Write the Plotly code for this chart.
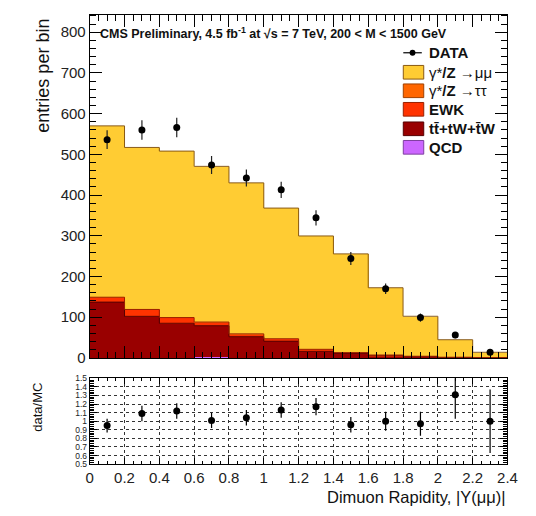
import plotly.graph_objects as go

W, H = 536, 516

# ---------------- data ----------------
bin_edges = [0.0, 0.2, 0.4, 0.6, 0.8, 1.0, 1.2, 1.4, 1.6, 1.8, 2.0, 2.2, 2.4]
bin_centers = [0.1, 0.3, 0.5, 0.7, 0.9, 1.1, 1.3, 1.5, 1.7, 1.9, 2.1, 2.3]

qcd = [0, 0, 0, 3, 0, 0, 0, 0, 0, 0, 0, 0]
ttbar = [137, 102, 85, 76, 52, 41, 16, 11, 5, 3, 1, 0.5]
ewk = [12, 17, 14, 9, 7, 6, 5, 2, 2, 1, 0.5, 0.2]
tautau = [2, 2, 2, 1.5, 1, 1, 0.5, 0.5, 0.3, 0.2, 0.1, 0.05]
mumu = [419, 396, 407, 381, 370, 320, 278, 242, 165, 98, 43, 13]

data_vals = [536, 560, 566, 474, 442, 413, 344, 244, 170, 99, 56, 14]
data_errs = [23, 24, 24, 22, 21, 20, 19, 16, 13, 10, 7.5, 4]

ratio_vals = [0.95, 1.09, 1.12, 1.01, 1.04, 1.13, 1.17, 0.96, 1.00, 0.97, 1.31, 1.00]
ratio_errs = [0.08, 0.09, 0.09, 0.09, 0.09, 0.09, 0.10, 0.09, 0.11, 0.14, 0.28, 0.37]

y_ticks_top = [0, 100, 200, 300, 400, 500, 600, 700, 800]
x_ticks = [0, 0.2, 0.4, 0.6, 0.8, 1.0, 1.2, 1.4, 1.6, 1.8, 2.0, 2.2, 2.4]
x_ticklabels = ["0", "0.2", "0.4", "0.6", "0.8", "1", "1.2", "1.4", "1.6", "1.8", "2", "2.2", "2.4"]
y_ticks_ratio = [0.5, 0.6, 0.7, 0.8, 0.9, 1.0, 1.1, 1.2, 1.3, 1.4, 1.5]
y_ticklabels_ratio = ["0.5", "0.6", "0.7", "0.8", "0.9", "1", "1.1", "1.2", "1.3", "1.4", "1.5"]

legend_labels = ["<b>DATA</b>", "γ*<b>/Z</b> →μμ", "γ*<b>/Z</b> →ττ", "<b>EWK</b>",
                 "<b>tt̄+tW+t̄W</b>", "<b>QCD</b>"]

# ---------------- styles ----------------
C_MUMU, L_MUMU = "#ffcc33", "#8a5a14"
C_TAU, L_TAU = "#ff6600", "#a04000"
C_EWK, L_EWK = "#ff3300", "#9a2000"
C_TT, L_TT = "#990000", "#550000"
C_QCD, L_QCD = "#cc66ff", "#7f3fa0"
FONT = "Liberation Sans, Arial, Helvetica, sans-serif"


def px(x):
    return x / W


def py(y):
    return 1 - y / H


fig = go.Figure()

layers = [("QCD", qcd, C_QCD), ("ttbar", ttbar, C_TT), ("EWK", ewk, C_EWK),
          ("tautau", tautau, C_TAU), ("mumu", mumu, C_MUMU)]
for name, vals, col in layers:
    fig.add_trace(go.Bar(x=bin_centers, y=vals, width=0.2, marker=dict(color=col, line=dict(width=0)),
                         name=name, showlegend=False, xaxis="x", yaxis="y"))

# step outlines on top of each stacked layer
cum = [0.0] * len(bin_centers)
outline_cols = {"QCD": None, "ttbar": L_TT, "EWK": L_EWK, "tautau": None, "mumu": L_MUMU}
for name, vals, col in layers:
    cum = [c + v for c, v in zip(cum, vals)]
    lc = outline_cols[name]
    if lc:
        fig.add_trace(go.Scatter(x=bin_edges, y=cum + [cum[-1]], mode="lines", line=dict(color=lc, width=1, shape="hv"),
                                 showlegend=False, hoverinfo="skip", xaxis="x", yaxis="y"))

fig.add_trace(go.Scatter(x=bin_centers, y=data_vals, mode="markers",
                         marker=dict(color="black", size=7),
                         error_y=dict(type="data", array=data_errs, color="#222", thickness=1.2, width=0),
                         showlegend=False, xaxis="x", yaxis="y"))

fig.add_trace(go.Scatter(x=bin_centers, y=ratio_vals, mode="markers",
                         marker=dict(color="black", size=7),
                         error_y=dict(type="data", array=ratio_errs, color="black", thickness=1.2, width=0),
                         showlegend=False, xaxis="x2", yaxis="y2"))

xdom = [px(88), px(517)]
fig.update_layout(
    width=W, height=H, margin=dict(l=0, r=0, t=0, b=0),
    paper_bgcolor="white", plot_bgcolor="white",
    barmode="stack", bargap=0, showlegend=False,
    font=dict(family=FONT, color="#222"),
    xaxis=dict(domain=xdom, range=[0, 2.4], anchor="y", showticklabels=False,
               tickvals=x_ticks, ticks="inside", ticklen=12, tickcolor="black",
               minor=dict(dtick=0.05, tick0=0, ticks="inside", ticklen=6, tickcolor="black"),
               showline=True, linecolor="black", linewidth=1, mirror="allticks", showgrid=False, zeroline=False),
    yaxis=dict(domain=[py(362), py(10)], range=[0, 843], anchor="x",
               tickvals=y_ticks_top, ticks="inside", ticklen=12, tickcolor="black",
               minor=dict(dtick=20, tick0=0, ticks="inside", ticklen=6, tickcolor="black"),
               tickfont=dict(size=15, family=FONT, color="#222"),
               showline=True, linecolor="black", linewidth=1, mirror="allticks", showgrid=False, zeroline=False),
    xaxis2=dict(domain=xdom, range=[0, 2.4], anchor="y2",
                tickvals=x_ticks, ticktext=x_ticklabels, ticks="inside", ticklen=6, tickcolor="black",
                minor=dict(dtick=0.05, tick0=0, ticks="inside", ticklen=3, tickcolor="black", showgrid=False),
                tickfont=dict(size=15, family=FONT, color="#222"),
                showline=True, linecolor="black", linewidth=1, mirror="allticks",
                showgrid=True, gridcolor="#333", griddash="dot", gridwidth=1, zeroline=False),
    yaxis2=dict(domain=[py(471), py(383)], range=[0.5, 1.5], anchor="x2",
                tickvals=y_ticks_ratio, ticktext=y_ticklabels_ratio, ticks="inside", ticklen=7, tickcolor="black",
                minor=dict(dtick=0.02, tick0=0.5, ticks="inside", ticklen=4, tickcolor="black", showgrid=False),
                tickfont=dict(size=8.5, family=FONT, color="#222"),
                showline=True, linecolor="black", linewidth=1, mirror="allticks",
                showgrid=True, gridcolor="#333", griddash="dot", gridwidth=1, zeroline=False),
)

ann = []
ann.append(dict(text="<b>CMS Preliminary, 4.5 fb<sup>-1</sup> at √s = 7 TeV, 200 < M < 1500 GeV</b>",
                x=px(97), y=py(29), xref="paper", yref="paper", xanchor="left", yanchor="middle",
                showarrow=False, font=dict(size=12.5, family=FONT, color="#111")))
ann.append(dict(text="entries per bin", x=px(40), y=py(12), xref="paper", yref="paper", textangle=-90,
                xanchor="center", yanchor="top", showarrow=False, font=dict(size=18, family=FONT, color="#111")))
ann.append(dict(text="data/MC", x=px(34), y=py(413), xref="paper", yref="paper", textangle=-90,
                xanchor="center", yanchor="middle", showarrow=False, font=dict(size=13, family=FONT, color="#111")))
ann.append(dict(text="Dimuon Rapidity, |Y(μμ)|", x=px(518), y=py(505), xref="paper", yref="paper",
                xanchor="right", yanchor="middle", showarrow=False, font=dict(size=16.5, family=FONT, color="#111")))

# legend (manual)
rows_y = [49, 69, 88, 107, 127, 146]
box_fill = [None, C_MUMU, C_TAU, C_EWK, C_TT, C_QCD]
box_line = [None, L_MUMU, L_TAU, L_EWK, L_TT, L_QCD]
shapes = []
for i, (lab, yc) in enumerate(zip(legend_labels, rows_y)):
    ann.append(dict(text=lab, x=px(434), y=py(yc), xref="paper", yref="paper", xanchor="left", yanchor="middle",
                    showarrow=False, font=dict(size=15, family=FONT, color="#111")))
    if box_fill[i] is None:
        shapes.append(dict(type="line", xref="paper", yref="paper", x0=px(410), x1=px(429), y0=py(yc), y1=py(yc),
                           line=dict(color="black", width=1.2)))
        shapes.append(dict(type="circle", xref="paper", yref="paper", x0=px(416.5), x1=px(422.5),
                           y0=py(yc + 3), y1=py(yc - 3), fillcolor="black", line=dict(color="black", width=0)))
    else:
        shapes.append(dict(type="rect", xref="paper", yref="paper", x0=px(410), x1=px(431), y0=py(yc + 7),
                           y1=py(yc - 7), fillcolor=box_fill[i], line=dict(color=box_line[i], width=1)))

fig.update_layout(annotations=ann, shapes=shapes)
fig.write_html("out.html")
